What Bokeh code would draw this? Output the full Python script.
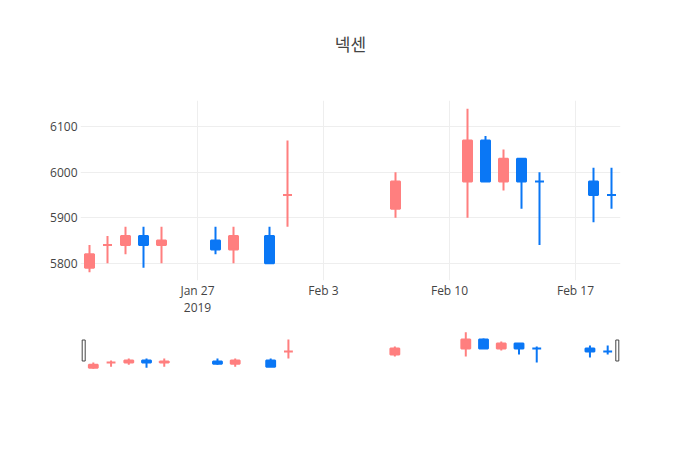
import pandas as pd
from bokeh.plotting import figure
from bokeh.models import Range1d, FixedTicker, ColumnDataSource
from bokeh.core.properties import value
from bokeh.layouts import column
from bokeh.embed import file_html
from bokeh.resources import INLINE

# ---- data ----
dates = ["2019-01-21", "2019-01-22", "2019-01-23", "2019-01-24", "2019-01-25",
         "2019-01-28", "2019-01-29", "2019-01-31", "2019-02-01", "2019-02-07",
         "2019-02-11", "2019-02-12", "2019-02-13", "2019-02-14", "2019-02-15",
         "2019-02-18", "2019-02-19"]
opens = [5790, 5840, 5840, 5860, 5840, 5850, 5830, 5860, 5950, 5920,
         5980, 6070, 5980, 6030, 5980, 5980, 5950]
highs = [5840, 5860, 5880, 5880, 5880, 5880, 5880, 5880, 6070, 6000,
         6140, 6080, 6050, 6030, 6000, 6010, 6010]
lows = [5780, 5800, 5820, 5790, 5800, 5820, 5800, 5800, 5880, 5900,
        5900, 5980, 5960, 5920, 5840, 5890, 5920]
closes = [5820, 5840, 5860, 5840, 5850, 5830, 5860, 5800, 5950, 5980,
          6070, 5980, 6030, 5980, 5980, 5950, 5950]
tick_dates = ["2019-01-27", "2019-02-03", "2019-02-10", "2019-02-17"]
tick_labels = ["Jan 27\n2019", "Feb 3", "Feb 10", "Feb 17"]
title_text = "넥센"

INC = "#FF7F7F"
DEC = "#0A77F5"
TXT = "#444444"
DAY = 86400000

# direction (plotly rule: equal open/close -> compare with previous close)
colors = []
prev = None
for o, c in zip(opens, closes):
    if c > o:
        inc = True
    elif c < o:
        inc = False
    else:
        inc = prev is not None and c > prev
    colors.append(INC if inc else DEC)
    prev = c

xs = pd.to_datetime(dates)
src = ColumnDataSource(dict(
    x=xs, open=opens, high=highs, low=lows, close=closes,
    top=[max(o, c) for o, c in zip(opens, closes)],
    bottom=[min(o, c) for o, c in zip(opens, closes)],
    color=colors))

x0 = xs[0] - pd.Timedelta(hours=12)
x1 = xs[-1] + pd.Timedelta(hours=12)
lo, hi = min(lows), max(highs)
pad = 0.05 * (hi - lo)
y0, y1 = lo - pad, hi + pad

W = 700
ML, MR = 80, 80
MAIN_TOP, MAIN_H, MAIN_B = 100, 180, 45

# ---- title strip ----
t = figure(width=W, height=MAIN_TOP, x_range=Range1d(0, 1), y_range=Range1d(0, MAIN_TOP),
           output_backend="svg", toolbar_location=None, title=None, min_border=0)
t.axis.visible = False
t.grid.visible = False
t.outline_line_color = None
t.text(x=[0.5], y=[MAIN_TOP - 43], text=[title_text], text_align="center",
       text_baseline="middle", text_font=value("Noto Sans CJK KR"),
       text_font_size="17px", text_color=TXT)

# ---- main chart ----
H1 = MAIN_H + MAIN_B
p = figure(width=W, height=H1, x_axis_type="datetime",
           x_range=Range1d(x0, x1), y_range=Range1d(y0, y1),
           output_backend="svg", toolbar_location=None, title=None,
           min_border_left=ML, min_border_right=MR,
           min_border_top=0, min_border_bottom=MAIN_B)
p.outline_line_color = None

tick_ms = [pd.Timestamp(d).value // 10**6 for d in tick_dates]
p.xaxis.ticker = FixedTicker(ticks=tick_ms)
p.xaxis.major_label_overrides = {tk: lb for tk, lb in zip(tick_ms, tick_labels)}
p.yaxis.ticker = FixedTicker(ticks=[5800, 5900, 6000, 6100])
for ax in (p.xaxis, p.yaxis):
    ax.axis_line_color = None
    ax.major_tick_line_color = None
    ax.minor_tick_line_color = None
    ax.major_tick_out = 0
    ax.major_tick_in = 0
    ax.minor_tick_out = 0
    ax.minor_tick_in = 0
    ax.major_label_text_font = "Open Sans"
    ax.major_label_text_font_size = "12px"
    ax.major_label_text_color = TXT
p.xaxis.major_label_standoff = 1
p.xaxis.major_label_text_line_height = 1.05
p.yaxis.major_label_standoff = 3
p.xgrid.ticker = FixedTicker(ticks=tick_ms)
p.grid.grid_line_color = "#eeeeee"
p.grid.grid_line_width = 1

p.segment(x0="x", y0="low", x1="x", y1="high", color="color", line_width=2, source=src)
p.vbar(x="x", top="top", bottom="bottom", width=0.5 * DAY, fill_color="color",
       line_color="color", line_width=2, source=src)

# ---- range slider ----
top_used = MAIN_TOP + H1
SL_TOP, SL_H = 330 - top_used, 40
H2 = 450 - top_used
ms_per_px = (x1 - x0) / (W - ML - MR)
ext = 4 * ms_per_px
p2 = figure(width=W, height=H2, x_axis_type="datetime",
            x_range=Range1d(x0 - ext, x1 + ext), y_range=Range1d(y0, y1),
            output_backend="svg", toolbar_location=None, title=None,
            min_border_left=ML - 4, min_border_right=MR - 4,
            min_border_top=SL_TOP, min_border_bottom=H2 - SL_TOP - SL_H)
p2.outline_line_color = None
p2.xaxis.visible = False
p2.yaxis.visible = False
p2.grid.visible = False
p2.segment(x0="x", y0="low", x1="x", y1="high", color="color", line_width=2, source=src)
p2.vbar(x="x", top="top", bottom="bottom", width=0.5 * DAY, fill_color="color",
        line_color="color", line_width=2, source=src)
p2.rect(x=[x0 - pd.Timedelta(hours=1), x1 + pd.Timedelta(hours=1)],
        y=[(y0 + y1) / 2] * 2, width=3, height=21,
        width_units="screen", height_units="screen",
        fill_color="white", line_color="#444444", line_width=1)

layout = column(t, p, p2, spacing=0)
open("out.html", "w").write(file_html(layout, INLINE))
